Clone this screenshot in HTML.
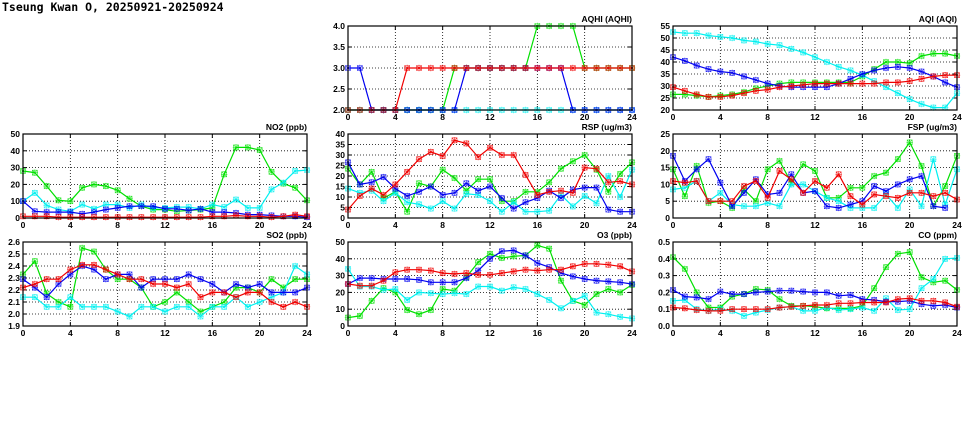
<!DOCTYPE html>
<html><head><meta charset="utf-8"><style>
html,body{margin:0;padding:0;background:#fff;}
svg{display:block;font-family:"Liberation Sans",sans-serif;font-weight:bold;}
</style></head><body>
<svg id="s" width="975" height="447" viewBox="0 0 975 447" xmlns="http://www.w3.org/2000/svg">
<rect width="975" height="447" fill="#fff"/>
<text x="2" y="11" font-size="11.5" font-family="DejaVu Sans Mono, Liberation Mono, monospace" font-weight="bold">Tseung Kwan O, 20250921-20250924</text>
<text x="632" y="22" font-size="8.5" text-anchor="end">AQHI (AQHI)</text>
<text x="957" y="22" font-size="8.5" text-anchor="end">AQI (AQI)</text>
<text x="307" y="130" font-size="8.5" text-anchor="end">NO2 (ppb)</text>
<text x="632" y="130" font-size="8.5" text-anchor="end">RSP (ug/m3)</text>
<text x="957" y="130" font-size="8.5" text-anchor="end">FSP (ug/m3)</text>
<text x="307" y="238" font-size="8.5" text-anchor="end">SO2 (ppb)</text>
<text x="632" y="238" font-size="8.5" text-anchor="end">O3 (ppb)</text>
<text x="957" y="238" font-size="8.5" text-anchor="end">CO (ppm)</text>
<g id="g"></g>
</svg>
<script>
var NS="http://www.w3.org/2000/svg",G=document.getElementById('g');
function el(t,a,txt){var e=document.createElementNS(NS,t);for(var k in a)e.setAttribute(k,a[k]);if(txt!==undefined)e.textContent=txt;G.appendChild(e);return e;}
var C={g:'#00e000',c:'#00f0f0',b:'#0000f0',r:'#f00000'};
var P=[
{x:348,y:26,min:2,max:4,step:0.5,dec:1,d:{
g:[2,2,2,2,2,2,2,2,2,3,3,3,3,3,3,3,4,4,4,4,3,3,3,3,3],
c:[2,2,2,2,2,2,2,2,2,2,2,2,2,2,2,2,2,2,2,2,2,2,2,2,2],
b:[3,3,2,2,2,2,2,2,2,2,3,3,3,3,3,3,3,3,3,2,2,2,2,2,2],
r:[2,2,2,2,2,3,3,3,3,3,3,3,3,3,3,3,3,3,3,3,3,3,3,3,3]}},
{x:673,y:26,min:20,max:55,step:5,dec:0,d:{
c:[52.5,52,52,51,50.5,50,49,48.5,47.5,47,45.5,44,42,40,38,36.5,34.5,32,29.5,27,24.5,22.5,21,21,27],
b:[42,40.5,38.5,37,36,35.5,34,32.5,31,30,29.5,29.5,29.5,29.5,31,33,35,36.5,37.5,38,37.5,36,34,31.5,29.5],
g:[26.5,26.5,26,25.5,26,26.5,27.5,29,30,31,31.5,31.5,31.5,31.5,31.5,31.5,34,37,40,40,39.5,42.5,43.5,43.5,42.5],
r:[29.5,28,26.5,25.5,25.5,26,27,28,28.5,29.5,30,30.5,31,31,31,31,31,31,31.5,31.5,32,33,34,34.5,34.5]}},
{x:23,y:134,min:0,max:50,step:10,dec:0,d:{
g:[28,27,19,10.5,10,18,20,19,16.5,11.5,7,5,5,4,4.5,5,6,26,42,42,40.5,27.5,20.5,18,10.5],
c:[10,15,7.5,5,4,8,5.5,8,8,6,8,6,6,6.5,6.5,5.5,8,6.5,11,6,6,17,21,28,28.5],
b:[10,4,3.5,3.5,3.5,2.5,3.5,5,6,7,7,7,5.5,5.5,4.5,5.5,3.5,3.5,3,2,2,1.5,1,1,0.5],
r:[1,1,1,0.5,0.5,0.5,0.5,0.5,0.5,0.5,0.5,0.5,0.5,0.5,0.5,0.5,1,1,1.5,1,1,0.5,1,2,1]}},
{x:348,y:134,min:0,max:40,step:5,dec:0,d:{
g:[23.5,16,22,9.5,12.5,3,16.5,15,23,19,13,18.5,18.5,8,8,12.5,12.5,17,23.5,27,30,23,12.5,21,26.5],
c:[14,12,13,8,12,7.5,6.5,4.5,8,4.5,11.5,11,8,3,7.5,3,3,3.5,11,5.5,10.5,7,20,10,23],
b:[26.5,16,17,19.5,14,10.5,12.5,15,11,12,16.5,13,15,9.5,4.5,7.5,9.5,13,9.5,13.5,14.5,14.5,4,3,3],
r:[4,10.5,14,11,16,22,28,31.5,29.5,37,35.5,29,33.5,30,30,20.5,11,12.5,13,12,24,23.5,17,17.5,16]}},
{x:673,y:134,min:0,max:25,step:5,dec:0,d:{
g:[14.5,6.5,15.5,4.5,5,3,8.5,5,14.5,17,10.5,16,14,6,6,9,9,12.5,13.5,17.5,22.5,15.5,3.5,9.5,18.5],
c:[8.5,9,11,5,7.5,4,3.5,3.5,4.5,3.5,10,10,8,6,5,3,3,3,7,3,8.5,3.5,17.5,4,14.5],
b:[18.5,11,14.5,17.5,10.5,3.5,7.5,11.5,7,7.5,13,7.5,8,3.5,3,4,5,9.5,8,10,11.5,12.5,3.5,3,null],
r:[11,10.5,11,5,5,5,9.5,11,6,14,11.5,7.5,11,9,13,6.5,4,7,6.5,6,7.5,7.5,6.5,7.5,5.5]}},
{x:23,y:242,min:1.9,max:2.6,step:0.1,dec:1,d:{
g:[2.33,2.44,2.17,2.1,2.06,2.55,2.52,2.37,2.29,2.29,2.22,2.06,2.1,2.18,2.1,2.02,2.06,2.1,2.22,2.22,2.18,2.29,2.22,2.29,2.29],
c:[2.14,2.14,2.06,2.06,2.14,2.06,2.06,2.06,2.02,1.98,2.06,2.06,2.02,2.06,2.06,1.98,2.06,2.06,2.14,2.06,2.1,2.14,2.18,2.4,2.33],
b:[2.29,2.22,2.14,2.25,2.33,2.4,2.37,2.29,2.33,2.33,2.22,2.29,2.29,2.29,2.33,2.29,2.25,2.18,2.25,2.22,2.25,2.18,2.18,2.18,2.22],
r:[2.22,2.25,2.29,2.29,2.37,2.41,2.41,2.37,2.33,2.29,2.29,2.25,2.25,2.22,2.25,2.14,2.18,2.18,2.14,2.18,2.18,2.1,2.06,2.1,2.06]}},
{x:348,y:242,min:0,max:50,step:10,dec:0,d:{
g:[5,6,15,22.5,20,9.5,7,9.5,22,21,29,38,43,40.5,41.5,42,48,46,27,15,12.5,19,22,20,24.5],
c:[34,23.5,23.5,21.5,22,15.5,20,19.5,19,19.5,19,23.5,23.5,21,23,22,19,15.5,10.5,15,18,8,7,5.5,4.5],
b:[25,28.5,28.5,28,28,28,27.5,26,26,26,28.5,33,40,44.5,45,42,37.5,35,31.5,29.5,28,27,26.5,26,25],
r:[25,24,24,27,32,33.5,33.5,33,31.5,31,31.5,30.5,30.5,31.5,32.5,33.5,33,33.5,33.5,35.5,37,37,36.5,35.5,32.5]}},
{x:673,y:242,min:0,max:0.5,step:0.1,dec:1,d:{
g:[.41,.34,.2,.11,.11,.175,.19,.22,.215,.16,.12,.12,.115,.105,.105,.105,.12,.225,.35,.43,.44,.29,.26,.27,.215],
c:[.15,.155,.1,.09,.1,.09,.06,.08,.095,.11,.115,.09,.09,.11,.095,.1,.11,.09,.165,.095,.1,.225,.28,.4,.405],
b:[.215,.175,.17,.16,.205,.19,.19,.2,.205,.21,.21,.205,.2,.2,.18,.185,.16,.155,.145,.145,.15,.13,.12,.125,.11],
r:[.11,.105,.095,.09,.09,.1,.1,.1,.1,.11,.115,.12,.125,.125,.135,.135,.14,.14,.14,.16,.165,.15,.15,.14,.115]}}
];
var W=284,H=84;
P.forEach(function(p){
 function Y(v){return p.y+H-(v-p.min)/(p.max-p.min)*H;}
 function X(h){return p.x+h*W/24;}
 var n=Math.round((p.max-p.min)/p.step);
 for(var i=0;i<=n;i++){var v=p.min+i*p.step,y=Y(v);
  if(i>0&&i<n)el('line',{x1:p.x,x2:p.x+W,y1:y,y2:y,stroke:'#000','stroke-width':0.8,'stroke-dasharray':'1,2'});
  el('line',{x1:p.x,x2:p.x+4,y1:y,y2:y,stroke:'#000'});el('line',{x1:p.x+W-4,x2:p.x+W,y1:y,y2:y,stroke:'#000'});
  el('text',{x:p.x-3,y:y+3,'font-size':8.5,'text-anchor':'end'},v.toFixed(p.dec));}
 for(var h=0;h<=24;h+=4){var x=X(h);
  if(h>0&&h<24)el('line',{x1:x,x2:x,y1:p.y,y2:p.y+H,stroke:'#000','stroke-width':0.8,'stroke-dasharray':'1,2'});
  el('line',{x1:x,x2:x,y1:p.y+H,y2:p.y+H-4,stroke:'#000'});el('line',{x1:x,x2:x,y1:p.y,y2:p.y+4,stroke:'#000'});
  el('text',{x:x,y:p.y+H+10,'font-size':8.5,'text-anchor':'middle'},String(h));}
 ['g','c','b','r'].forEach(function(k){var a=p.d[k],col=C[k],pts=[],m='';
  a.forEach(function(v,h){if(v===null)return;var x=X(h),y=Y(v);pts.push(x.toFixed(1)+','+y.toFixed(1));
   m+='M'+(x-2.5)+','+(y-2.5)+'h5v5h-5zM'+(x-2.5)+','+(y-2.5)+'l5,5M'+(x+2.5)+','+(y-2.5)+'l-5,5M'+(x-3.2)+','+y+'h6.4M'+x+','+(y-3.2)+'v6.4';});
  el('polyline',{points:pts.join(' '),fill:'none',stroke:col,'stroke-width':1.2});
  el('path',{d:m,fill:'none',stroke:col,'stroke-width':0.6,'stroke-opacity':0.85});});
 el('rect',{x:p.x,y:p.y,width:W,height:H,fill:'none',stroke:'#000','stroke-width':1.2});
});
</script>
</body></html>
